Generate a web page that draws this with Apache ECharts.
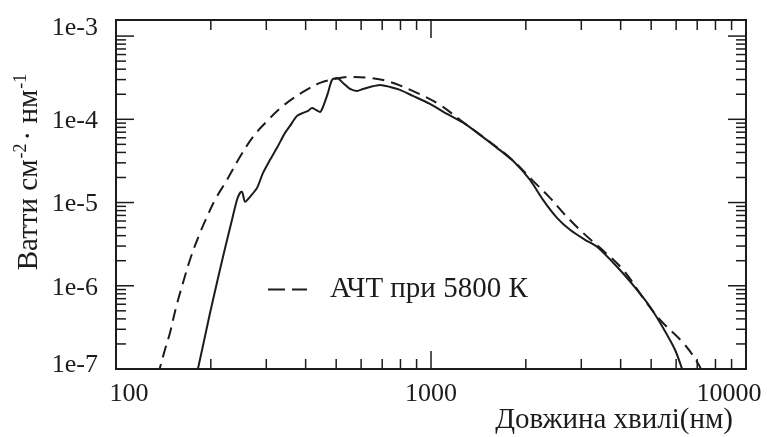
<!DOCTYPE html>
<html>
<head>
<meta charset="utf-8">
<script src="https://cdn.jsdelivr.net/npm/echarts@6/dist/echarts.min.js"></script>
<style>html,body{margin:0;padding:0;background:#fff;}#c{width:767px;height:437px;}</style>
</head>
<body>
<div id="c"></div>
<script>
// Solar spectrum (solid line)
const specX = [179.5, 182.1, 198.9, 218.6, 233.5, 242.2, 247.6, 251.2, 256.8, 266.3, 280.4, 292.9, 308.3, 324.4, 344.0, 356.8, 375.5, 392.4, 407.0, 419.1, 431.5, 444.3, 454.1, 470.9, 485.0, 503.0, 525.6, 553.3, 582.4, 608.5, 640.4, 688.8, 741.0, 797.3, 876.8, 992.7, 1124, 1282, 1431, 1620, 1821, 2062, 2268, 2512, 2762, 3083, 3365, 3895, 4508, 4958, 5452, 5951, 6264, 6358];
const specY = [8.54e-8, 1.01e-7, 4.74e-7, 2.23e-6, 6.20e-6, 1.078e-5, 1.307e-5, 1.344e-5, 1.02e-5, 1.17e-5, 1.50e-5, 2.27e-5, 3.26e-5, 4.54e-5, 6.87e-5, 8.33e-5, 1.099e-4, 1.193e-4, 1.261e-4, 1.37e-4, 1.297e-4, 1.227e-4, 1.409e-4, 2.074e-4, 2.972e-4, 3.14e-4, 2.735e-4, 2.317e-4, 2.193e-4, 2.317e-4, 2.449e-4, 2.588e-4, 2.449e-4, 2.254e-4, 1.91e-4, 1.53e-4, 1.161e-4, 8.81e-5, 6.50e-5, 4.54e-5, 3.17e-5, 1.873e-5, 1.078e-5, 6.55e-6, 4.70e-6, 3.566e-6, 2.94e-6, 1.69e-6, 8.95e-7, 5.60e-7, 3.13e-7, 1.705e-7, 1.01e-7, 8.3e-8];
// Black body at 5800 K (dashed line)
const bbX = [135.9, 137.9, 143.0, 148.4, 155.0, 163.2, 173.0, 184.8, 194.5, 206.2, 225.1, 247.6, 272.2, 301.6, 339.0, 392.4, 444.3, 495.7, 553.3, 640.4, 741.0, 902.9, 1068, 1236, 1463, 1781, 2108, 2387, 2664, 3037, 3440, 4070, 4710, 5333, 6310, 6990, 7357];
const bbY = [8.3e-8, 1.036e-7, 1.705e-7, 2.73e-7, 5.44e-7, 1.086e-6, 2.23e-6, 4.33e-6, 6.73e-6, 1.078e-5, 1.873e-5, 3.54e-5, 6.15e-5, 9.5e-5, 1.448e-4, 2.133e-4, 2.735e-4, 3.055e-4, 3.228e-4, 3.14e-4, 2.812e-4, 2.074e-4, 1.489e-4, 9.84e-5, 6.15e-5, 3.44e-5, 1.822e-5, 1.139e-5, 7.12e-6, 4.33e-6, 2.86e-6, 1.556e-6, 7.18e-7, 3.91e-7, 2.07e-7, 1.224e-7, 8.3e-8];

const xMajorTicks = [100, 1000, 10000];
const xMinorTicks = [200, 300, 400, 500, 600, 700, 800, 900, 2000, 3000, 4000, 5000, 6000, 7000, 8000, 9000];
const yMajorTicks = [1e-7, 1e-6, 1e-5, 1e-4, 1e-3];
const yMinorTicks = [2e-7,3e-7,4e-7,5e-7,6e-7,7e-7,8e-7,9e-7, 2e-6,3e-6,4e-6,5e-6,6e-6,7e-6,8e-6,9e-6, 2e-5,3e-5,4e-5,5e-5,6e-5,7e-5,8e-5,9e-5, 2e-4,3e-4,4e-4,5e-4,6e-4,7e-4,8e-4,9e-4];

const xName = 'Довжина хвилі(нм)';
const bbName = 'АЧТ при 5800 К';
const specName = 'Сонце';

const X_MIN = 100, X_MAX = 10000, Y_MIN = 1e-7, Y_MAX = 1.56e-3;
const FONT = 'Liberation Serif';
const INK = '#1c1c1c';

const zip = (a, b) => a.map((v, i) => [v, b[i]]);

const xTickData = xMajorTicks.map(v => [v, 1e-5, 1]).concat(xMinorTicks.map(v => [v, 1e-5, 0]));
const yTickData = yMajorTicks.map(v => [1000, v, 1]).concat(yMinorTicks.map(v => [1000, v, 0]));

const MAJ = 18, MIN = 10;
function tickLine(x1, y1, x2, y2) {
  return { type: 'line', shape: { x1, y1, x2, y2 }, style: { stroke: INK, lineWidth: 1.5 } };
}

const chart = echarts.init(document.getElementById('c'));
chart.setOption({
  backgroundColor: '#fff',
  animation: false,
  grid: { left: 116, right: 21, top: 20, bottom: 68, containLabel: false, outerBoundsMode: 'none', show: true, borderColor: INK, borderWidth: 2, backgroundColor: 'transparent' },
  legend: {
    data: [{ name: bbName, icon: 'path://M0,0h17v2h-17z M24,0h15v2h-15z' }],
    left: 268, top: 275, padding: 0,
    itemWidth: 39, itemHeight: 2,
    itemStyle: { color: INK },
    textStyle: { fontFamily: FONT, fontSize: 29, color: INK, padding: [0, 0, 0, 18] },
    selectedMode: false
  },
  graphic: [{
    type: 'text', right: 34, top: 406, silent: true,
    style: { text: xName, fontFamily: FONT, fontSize: 29, fill: INK }
  }],
  xAxis: {
    type: 'log', min: X_MIN, max: X_MAX, logBase: 10,
    axisLine: { show: true, lineStyle: { color: INK, width: 2 } },
    axisTick: { show: false },
    splitLine: { show: false },
    axisLabel: {
      margin: 12,
      fontFamily: FONT, fontSize: 26, color: INK,
      formatter: function (v) {
        const r = Math.round(v);
        if (r === 100) return '{l|100}';
        if (r === 10000) return '{r|10000}';
        return '{c|' + r + '}';
      },
      rich: {
        l: { fontFamily: FONT, fontSize: 26, color: INK, padding: [0, 0, 0, 26] },
        r: { fontFamily: FONT, fontSize: 26, color: INK, padding: [0, 34, 0, 0] },
        c: { fontFamily: FONT, fontSize: 26, color: INK }
      }
    }
  },
  yAxis: {
    type: 'log', min: Y_MIN, max: Y_MAX, logBase: 10,
    axisLine: { show: true, lineStyle: { color: INK, width: 2 } },
    axisTick: { show: false },
    splitLine: { show: false },
    axisLabel: {
      margin: 18,
      fontFamily: FONT, fontSize: 26, color: INK,
      showMaxLabel: false,
      formatter: function (v) {
        const e = Math.log10(v);
        const re = Math.round(e);
        if (Math.abs(e - re) > 1e-6) return '';
        if (re === -3) return '{t|1e-3}';
        if (re === -7) return '{b|1e-7}';
        return '{c|1e' + re + '}';
      },
      rich: {
        t: { fontFamily: FONT, fontSize: 26, color: INK, padding: [0, 0, 16, 0] },
        b: { fontFamily: FONT, fontSize: 26, color: INK, padding: [0, 0, 8, 0] },
        c: { fontFamily: FONT, fontSize: 26, color: INK, padding: [4, 0, 0, 0] }
      }
    },
    name: '{a|Ватти см}{s|-2}{a|· нм}{s|-1}',
    nameLocation: 'middle',
    nameRotate: 90,
    nameGap: 70,
    nameMoveOverlap: false,
    nameTextStyle: {
      padding: [0, 0, 0, 48],
      rich: {
        a: { fontFamily: FONT, fontSize: 29, color: INK, lineHeight: 34 },
        s: { fontFamily: FONT, fontSize: 18, color: INK, lineHeight: 34, verticalAlign: 'top', padding: [0, 3, 0, 1] }
      }
    }
  },
  series: [
    {
      name: specName, type: 'line', data: zip(specX, specY),
      showSymbol: false, symbol: 'none', smooth: 0.25, clip: true,
      lineStyle: { color: INK, width: 2 }, z: 3
    },
    {
      name: bbName, type: 'line', data: zip(bbX, bbY),
      showSymbol: false, symbol: 'none', smooth: 0.4, clip: true,
      lineStyle: { color: INK, width: 2, type: [12, 7] }, itemStyle: { color: INK }, z: 3
    },
    {
      type: 'custom', data: xTickData, silent: true, z: 4,
      renderItem: function (params, api) {
        const cs = params.coordSys;
        const p = api.coord([api.value(0), api.value(1)]);
        const L = api.value(2) ? MAJ : MIN;
        const bottom = cs.y + cs.height, top = cs.y;
        return { type: 'group', children: [
          tickLine(p[0], bottom, p[0], bottom - L),
          tickLine(p[0], top, p[0], top + L)
        ] };
      }
    },
    {
      type: 'custom', data: yTickData, silent: true, z: 4,
      renderItem: function (params, api) {
        const cs = params.coordSys;
        const p = api.coord([api.value(0), api.value(1)]);
        const L = api.value(2) ? MAJ : MIN;
        const left = cs.x, right = cs.x + cs.width;
        return { type: 'group', children: [
          tickLine(left, p[1], left + L, p[1]),
          tickLine(right, p[1], right - L, p[1])
        ] };
      }
    }
  ]
});
</script>
</body>
</html>
